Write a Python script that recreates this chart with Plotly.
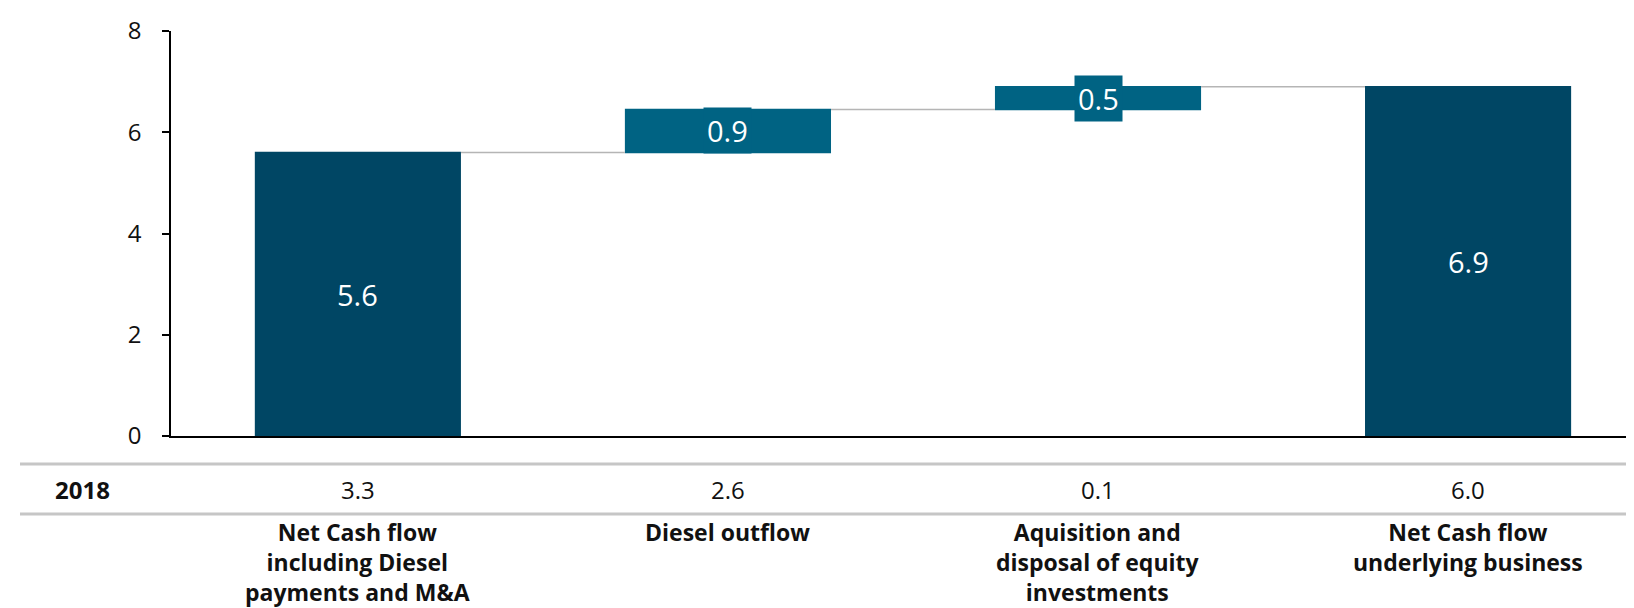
import plotly.graph_objects as go

# ---- data ----
categories = ["Net Cash flow including Diesel payments and M&A", "Diesel outflow",
              "Aquisition and disposal of equity investments", "Net Cash flow underlying business"]
category_labels = ["Net Cash flow<br>including Diesel<br>payments and M&A", "Diesel outflow",
                   "Aquisition and<br>disposal of equity<br>investments", "Net Cash flow<br>underlying business"]
measures = ["absolute", "relative", "relative", "total"]
values = [5.6, 0.85, 0.45, 6.9]
value_labels = ["5.6", "0.9", "0.5", "6.9"]
row_label = "2018"
values_2018 = ["3.3", "2.6", "0.1", "6.0"]
y_ticks = [0, 2, 4, 6, 8]

DARK = "#004664"
LIGHT = "#006383"
FONT = "Open Sans"
W, H = 1634, 608
ML, MR, MT, MB = 163, 0, 23, 180
PH = H - MT - MB
PW = W - ML - MR


def py2paper(py):
    return (H - MB - py) / PH


def px2paper(px):
    return (px - ML) / PW


fig = go.Figure(go.Waterfall(
    x=categories, y=values, measure=measures,
    textinfo="none",
    totals=dict(marker=dict(color=DARK)),
    increasing=dict(marker=dict(color=LIGHT)),
    decreasing=dict(marker=dict(color=LIGHT)),
    connector=dict(line=dict(color="#B5B5B5", width=1.5)),
    hoverinfo="skip",
))

# bar label annotations
run = 0.0
annotations = []
for i, (m, v, lab) in enumerate(zip(measures, values, value_labels)):
    if m == "absolute":
        lo, hi = 0, v
        run = v
        col = DARK
    elif m == "relative":
        lo, hi = run, run + v
        run += v
        col = LIGHT
    else:
        lo, hi = 0, run
        col = DARK
    annotations.append(dict(x=i, y=(lo + hi) / 2, xref="x", yref="y", text=lab,
                            showarrow=False, bgcolor=col, borderpad=3,
                            font=dict(family=FONT, size=29, color="white")))

# table row
annotations.append(dict(x=px2paper(45), y=py2paper(481), xref="paper", yref="paper",
                        text="<b>" + row_label + "</b>", showarrow=False, xanchor="left", yanchor="middle",
                        font=dict(family=FONT, size=24, color="#111111")))
for i, t in enumerate(values_2018):
    annotations.append(dict(x=i, y=py2paper(481), xref="x", yref="paper", text=t, showarrow=False,
                            yanchor="middle", font=dict(family=FONT, size=24, color="#111111")))
for i, t in enumerate(category_labels):
    annotations.append(dict(x=i, y=py2paper(506), xref="x", yref="paper", text="<b>" + t + "</b>",
                            showarrow=False, yanchor="top", align="center",
                            font=dict(family=FONT, size=23, color="#111111")))

shapes = []
for ly in (456, 506):
    shapes.append(dict(type="line", xref="paper", yref="paper", x0=px2paper(12), x1=1.0,
                       y0=py2paper(ly), y1=py2paper(ly), line=dict(color="#C6C6C6", width=3)))

fig.update_layout(
    width=W, height=H,
    margin=dict(l=ML, r=MR, t=MT, b=MB),
    plot_bgcolor="white", paper_bgcolor="white",
    showlegend=False,
    waterfallgap=0.443,
    annotations=annotations,
    shapes=shapes,
    font=dict(family=FONT, size=24, color="#111111"),
    xaxis=dict(range=[-0.505, 3.47], showticklabels=False, showline=True, linecolor="black",
               linewidth=1.5, ticks="", showgrid=False, zeroline=False, fixedrange=True),
    yaxis=dict(range=[0, 8], tickvals=y_ticks, showline=True, linecolor="black", linewidth=1.5,
               ticks="outside", ticklen=7, tickwidth=1.5, tickcolor="black", showgrid=False,
               zeroline=False, ticklabelstandoff=16,
               tickfont=dict(family=FONT, size=24, color="#111111")),
)

fig.write_html("out.html")
